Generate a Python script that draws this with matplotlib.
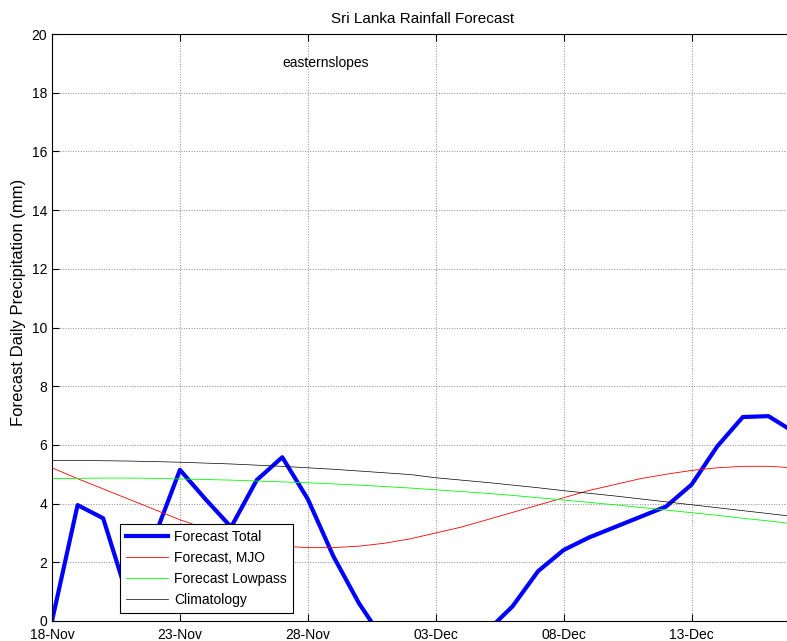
import numpy as np
import matplotlib
matplotlib.use("Agg")
import matplotlib.pyplot as plt

plt.rcParams['font.family'] = ['Liberation Sans', 'DejaVu Sans']

# days since 18-Nov
days = np.arange(30)
tick_days = [0, 5, 10, 15, 20, 25]
tick_labels = ['18-Nov', '23-Nov', '28-Nov', '03-Dec', '08-Dec', '13-Dec']

total = [0.0, 3.95, 3.5, 0.7, 2.85, 5.15, 4.15, 3.2, 4.8, 5.58,
         4.15, 2.2, 0.6, -0.7, -1.5, -1.8, -1.2, -0.35, 0.5, 1.7,
         2.42, 2.85, 3.2, 3.55, 3.9, 4.65, 5.95, 6.95, 6.98, 6.44]
mjo = [5.22, 4.85, 4.5, 4.15, 3.8, 3.45, 3.15, 2.9, 2.7, 2.55,
       2.5, 2.5, 2.55, 2.65, 2.8, 3.0, 3.2, 3.45, 3.7, 3.95,
       4.2, 4.45, 4.65, 4.85, 5.0, 5.13, 5.22, 5.27, 5.27, 5.22]
lowpass = [4.85, 4.86, 4.87, 4.87, 4.86, 4.84, 4.82, 4.8, 4.77, 4.74,
           4.71, 4.67, 4.63, 4.58, 4.53, 4.47, 4.41, 4.35, 4.28, 4.2,
           4.12, 4.04, 3.96, 3.87, 3.78, 3.69, 3.6, 3.5, 3.41, 3.31]
clim = [5.47, 5.47, 5.46, 5.45, 5.43, 5.41, 5.38, 5.35, 5.31, 5.27,
        5.22, 5.17, 5.11, 5.05, 4.99, 4.88, 4.8, 4.72, 4.63, 4.54,
        4.44, 4.35, 4.26, 4.16, 4.06, 3.96, 3.86, 3.76, 3.66, 3.56]

fig = plt.figure(figsize=(7.87, 6.41), dpi=100)
ax = fig.add_axes([52/787, 20/641, 742/787, 587/641])

ax.plot(days, total, color='#0000ff', lw=3, label='Forecast Total')
ax.plot(days, mjo, color='#ff0000', lw=0.6, label='Forecast, MJO')
ax.plot(days, lowpass, color='#00ff00', lw=0.6, label='Forecast Lowpass')
ax.plot(days, clim, color='#000000', lw=0.5, label='Climatology')

ax.set_xlim(0, 29)
ax.set_ylim(0, 20)
ax.set_xticks(tick_days)
ax.set_xticklabels(tick_labels)
ax.set_yticks(np.arange(0, 21, 2))
ax.tick_params(direction='in', labelsize=10, top=True, right=False, length=5)
ax.tick_params(axis='x', pad=5)
ax.grid(True, linestyle=':', color='#8a8a8a', lw=0.7)
for s in ax.spines.values():
    s.set_linewidth(0.8)

ax.set_title('Sri Lanka Rainfall Forecast', fontsize=11, pad=8)
ax.set_ylabel('Forecast Daily Precipitation (mm)', fontsize=12)
ax.yaxis.set_label_coords(-0.035, 0.542)
ax.text(9, 19, 'easternslopes', fontsize=10, va='center', ha='left')

leg = ax.legend(loc='lower left', bbox_to_anchor=(0.0916, 0.0136),
                fancybox=False, framealpha=1, edgecolor='black',
                fontsize=10, handlelength=3.0, handletextpad=0.45,
                borderpad=0.45, labelspacing=0.5, borderaxespad=0)
leg.get_frame().set_linewidth(0.8)

fig.savefig('out.png', dpi=100)
